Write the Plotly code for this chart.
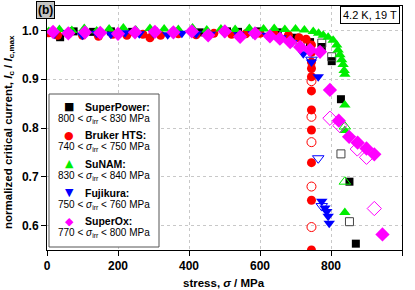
import plotly.graph_objects as go

# ---------------- data ----------------
sp_x = [10, 37, 75, 130, 180, 240, 300, 360, 430, 507, 538, 600, 650, 700, 741, 774, 802, 828, 852, 870]
sp_y = [0.995, 0.986, 0.998, 0.997, 0.998, 0.997, 0.998, 0.997, 0.996, 0.998, 0.997, 0.998, 0.996, 0.985, 0.976, 0.966, 0.937, 0.859, 0.690, 0.563]
sp_ox = [713, 774, 802, 828, 852]
sp_oy = [0.976, 0.974, 0.946, 0.747, 0.608]

br_x = [5, 30, 60, 100, 145, 185, 225, 270, 290, 320, 370, 420, 470, 520, 560, 600, 640, 680, 710, 730,
        745, 745, 745, 745, 745, 745, 745, 745, 745, 745, 745]
br_y = [0.995, 0.990, 0.993, 0.990, 0.988, 0.992, 0.990, 0.992, 0.985, 0.990, 0.993, 0.991, 0.994, 0.992, 0.993, 0.994, 0.993, 0.990, 0.985, 0.982,
        0.970, 0.955, 0.935, 0.922, 0.905, 0.876, 0.837, 0.796, 0.729, 0.652, 0.550]
br_ox = [745, 745, 745, 745, 745]
br_oy = [0.896, 0.823, 0.771, 0.680, 0.597]

su_x = [5, 35, 70, 105, 140, 175, 215, 250, 290, 330, 370, 410, 450, 490, 530, 570, 610, 640, 670, 700, 725, 750,
        765, 778, 792, 806, 816, 820, 825, 830, 834, 837, 839, 839, 839, 839]
su_y = [0.998, 1.002, 1.000, 1.004, 0.999, 1.003, 1.005, 1.001, 1.004, 1.003, 1.002, 1.005, 1.001, 1.003, 1.002, 1.004, 1.003, 1.004, 1.002, 1.003, 1.001, 0.998,
        0.994, 0.990, 0.986, 0.980, 0.970, 0.960, 0.950, 0.940, 0.930, 0.918, 0.910, 0.847, 0.795, 0.627]
su_ox = [839, 839]
su_oy = [0.803, 0.690]

fu_x = [20, 60, 100, 140, 180, 220, 260, 300, 340, 380, 420, 460, 500, 540, 580, 620, 660, 690, 722, 745,
        764, 774, 783, 788, 792, 795]
fu_y = [0.992, 0.995, 0.990, 0.994, 0.992, 0.995, 0.993, 0.994, 0.991, 0.994, 0.993, 0.992, 0.994, 0.991, 0.993, 0.990, 0.985, 0.975, 0.952, 0.935,
        0.905, 0.650, 0.636, 0.629, 0.619, 0.605]
fu_ox = [745, 764, 774]
fu_oy = [0.940, 0.738, 0.640]

so_x = [17, 60, 107, 150, 200, 248, 304, 356, 408, 454, 501, 544, 586, 628, 656, 685, 713, 741, 769,
        797, 822, 851, 875, 900, 922, 945]
so_y = [0.997, 0.994, 0.996, 0.995, 0.993, 0.996, 0.997, 0.996, 0.998, 0.990, 0.998, 0.987, 0.994, 0.988, 0.983, 0.976, 0.966, 0.960, 0.956,
        0.878, 0.815, 0.782, 0.770, 0.758, 0.746, 0.582]
so_ox = [797, 825, 874, 900, 922]
so_oy = [0.820, 0.805, 0.757, 0.740, 0.635]

names = ["SuperPower:", "Bruker HTS:", "SuNAM:", "Fujikura:", "SuperOx:"]
ranges = [("800", "830"), ("740", "750"), ("830", "840"), ("750", "760"), ("770", "800")]
x_ticks = [0, 200, 400, 600, 800, 1000]
y_ticks = [0.6, 0.7, 0.8, 0.9, 1.0]

colors = ["#000000", "#ff0000", "#00ee00", "#0000ff", "#ff00ff"]
symbols = ["square", "circle", "triangle-up", "triangle-down", "diamond"]
sizes = [8, 9, 10, 10, 11]
glyphs = ["■", "●", "▲", "▼", "◆"]

series = [(sp_x, sp_y, sp_ox, sp_oy), (br_x, br_y, br_ox, br_oy), (su_x, su_y, su_ox, su_oy),
          (fu_x, fu_y, fu_ox, fu_oy), (so_x, so_y, so_ox, so_oy)]

FONT = "Liberation Sans, Arial, sans-serif"
fig = go.Figure()

for i, (fx, fy, ox, oy) in enumerate(series):
    fig.add_trace(go.Scatter(x=fx, y=fy, mode="markers", showlegend=False,
                             marker=dict(symbol=symbols[i], size=sizes[i], color=colors[i], line=dict(width=0))))
    ocol = "#444444" if i == 0 else colors[i]
    fig.add_trace(go.Scatter(x=ox, y=oy, mode="markers", showlegend=False,
                             marker=dict(symbol=symbols[i] + "-open", size=sizes[i], color=ocol, line=dict(width=1))))

# layout geometry (pixels)
W, H = 415, 290
L, R, T, B = 47, 13, 6, 40
pw, ph = W - L - R, H - T - B


def px(xp):
    return (xp - L) / pw


def py(yp):
    return (H - B - yp) / ph


axis_common = dict(showline=True, linecolor="black", linewidth=1, mirror=True,
                   ticks="outside", ticklen=5, tickcolor="black", automargin=False,
                   showgrid=True, gridcolor="#c8c8c8", griddash="dot", gridwidth=1,
                   zeroline=False,
                   tickfont=dict(family=FONT, size=12, color="black"))

fig.update_layout(
    width=W, height=H, margin=dict(l=L, r=R, t=T, b=B),
    paper_bgcolor="white", plot_bgcolor="white",
    font=dict(family=FONT, color="black"),
    xaxis=dict(range=[0, 1000], tickvals=x_ticks, ticktext=["<b>%d</b>" % v for v in x_ticks],
               **axis_common),
    yaxis=dict(range=[0.55, 1.05], tickvals=y_ticks, ticktext=["<b>%.1f</b>" % v for v in y_ticks],
               **axis_common),
)

shapes = []
annotations = []

# axis titles
annotations.append(dict(xref="paper", yref="paper", x=px(224), y=py(283),
                        text="<b>stress, <i>σ</i> / MPa</b>", showarrow=False,
                        xanchor="center", yanchor="middle", font=dict(family=FONT, size=11.5)))
annotations.append(dict(xref="paper", yref="paper", x=px(9), y=py(132), textangle=-90,
                        text="<b>normalized critical current, <i>I</i><sub>c</sub> / <i>I</i><sub>c,max</sub></b>",
                        showarrow=False, xanchor="center", yanchor="middle", font=dict(family=FONT, size=11.5)))

# legend box
shapes.append(dict(type="rect", xref="paper", yref="paper", x0=px(49), x1=px(159), y0=py(247), y1=py(94),
                   fillcolor="white", line=dict(color="#555555", width=1), layer="above"))

row0 = 106.7
step = 28.6
for i in range(5):
    y1 = row0 + i * step
    y2 = y1 + 12
    annotations.append(dict(xref="paper", yref="paper", x=px(69), y=py(y1), text=glyphs[i], showarrow=False,
                            xanchor="center", yanchor="middle",
                            font=dict(family="DejaVu Sans", size=11, color=colors[i])))
    annotations.append(dict(xref="paper", yref="paper", x=px(83), y=py(y1), text="<b>" + names[i] + "</b>",
                            showarrow=False, xanchor="left", yanchor="middle",
                            font=dict(family=FONT, size=10.5, color="black")))
    lo, hi = ranges[i]
    annotations.append(dict(xref="paper", yref="paper", x=px(104), y=py(y2),
                            text=lo + " &lt; <i>σ</i><sub>irr</sub> &lt; " + hi + " MPa",
                            showarrow=False, xanchor="center", yanchor="middle",
                            font=dict(family=FONT, size=10, color="black")))

# (b) label
annotations.append(dict(xref="paper", yref="paper", x=px(45.5), y=py(9.5), text="<b>(b)</b>", showarrow=False,
                        xanchor="center", yanchor="middle", bgcolor="#c4c4c4", bordercolor="black", borderwidth=1,
                        borderpad=1, font=dict(family=FONT, size=12, color="black")))

# condition label
annotations.append(dict(xref="paper", yref="paper", x=px(370), y=py(14.5), text="4.2 K, 19 T", showarrow=False,
                        xanchor="center", yanchor="middle", bgcolor="white", bordercolor="black", borderwidth=1,
                        borderpad=2, font=dict(family=FONT, size=11, color="black")))

fig.update_layout(shapes=shapes, annotations=annotations)
fig.write_html("out.html", config={"displayModeBar": False},
               post_script="document.body.style.margin='0';document.body.style.overflow='hidden';")
